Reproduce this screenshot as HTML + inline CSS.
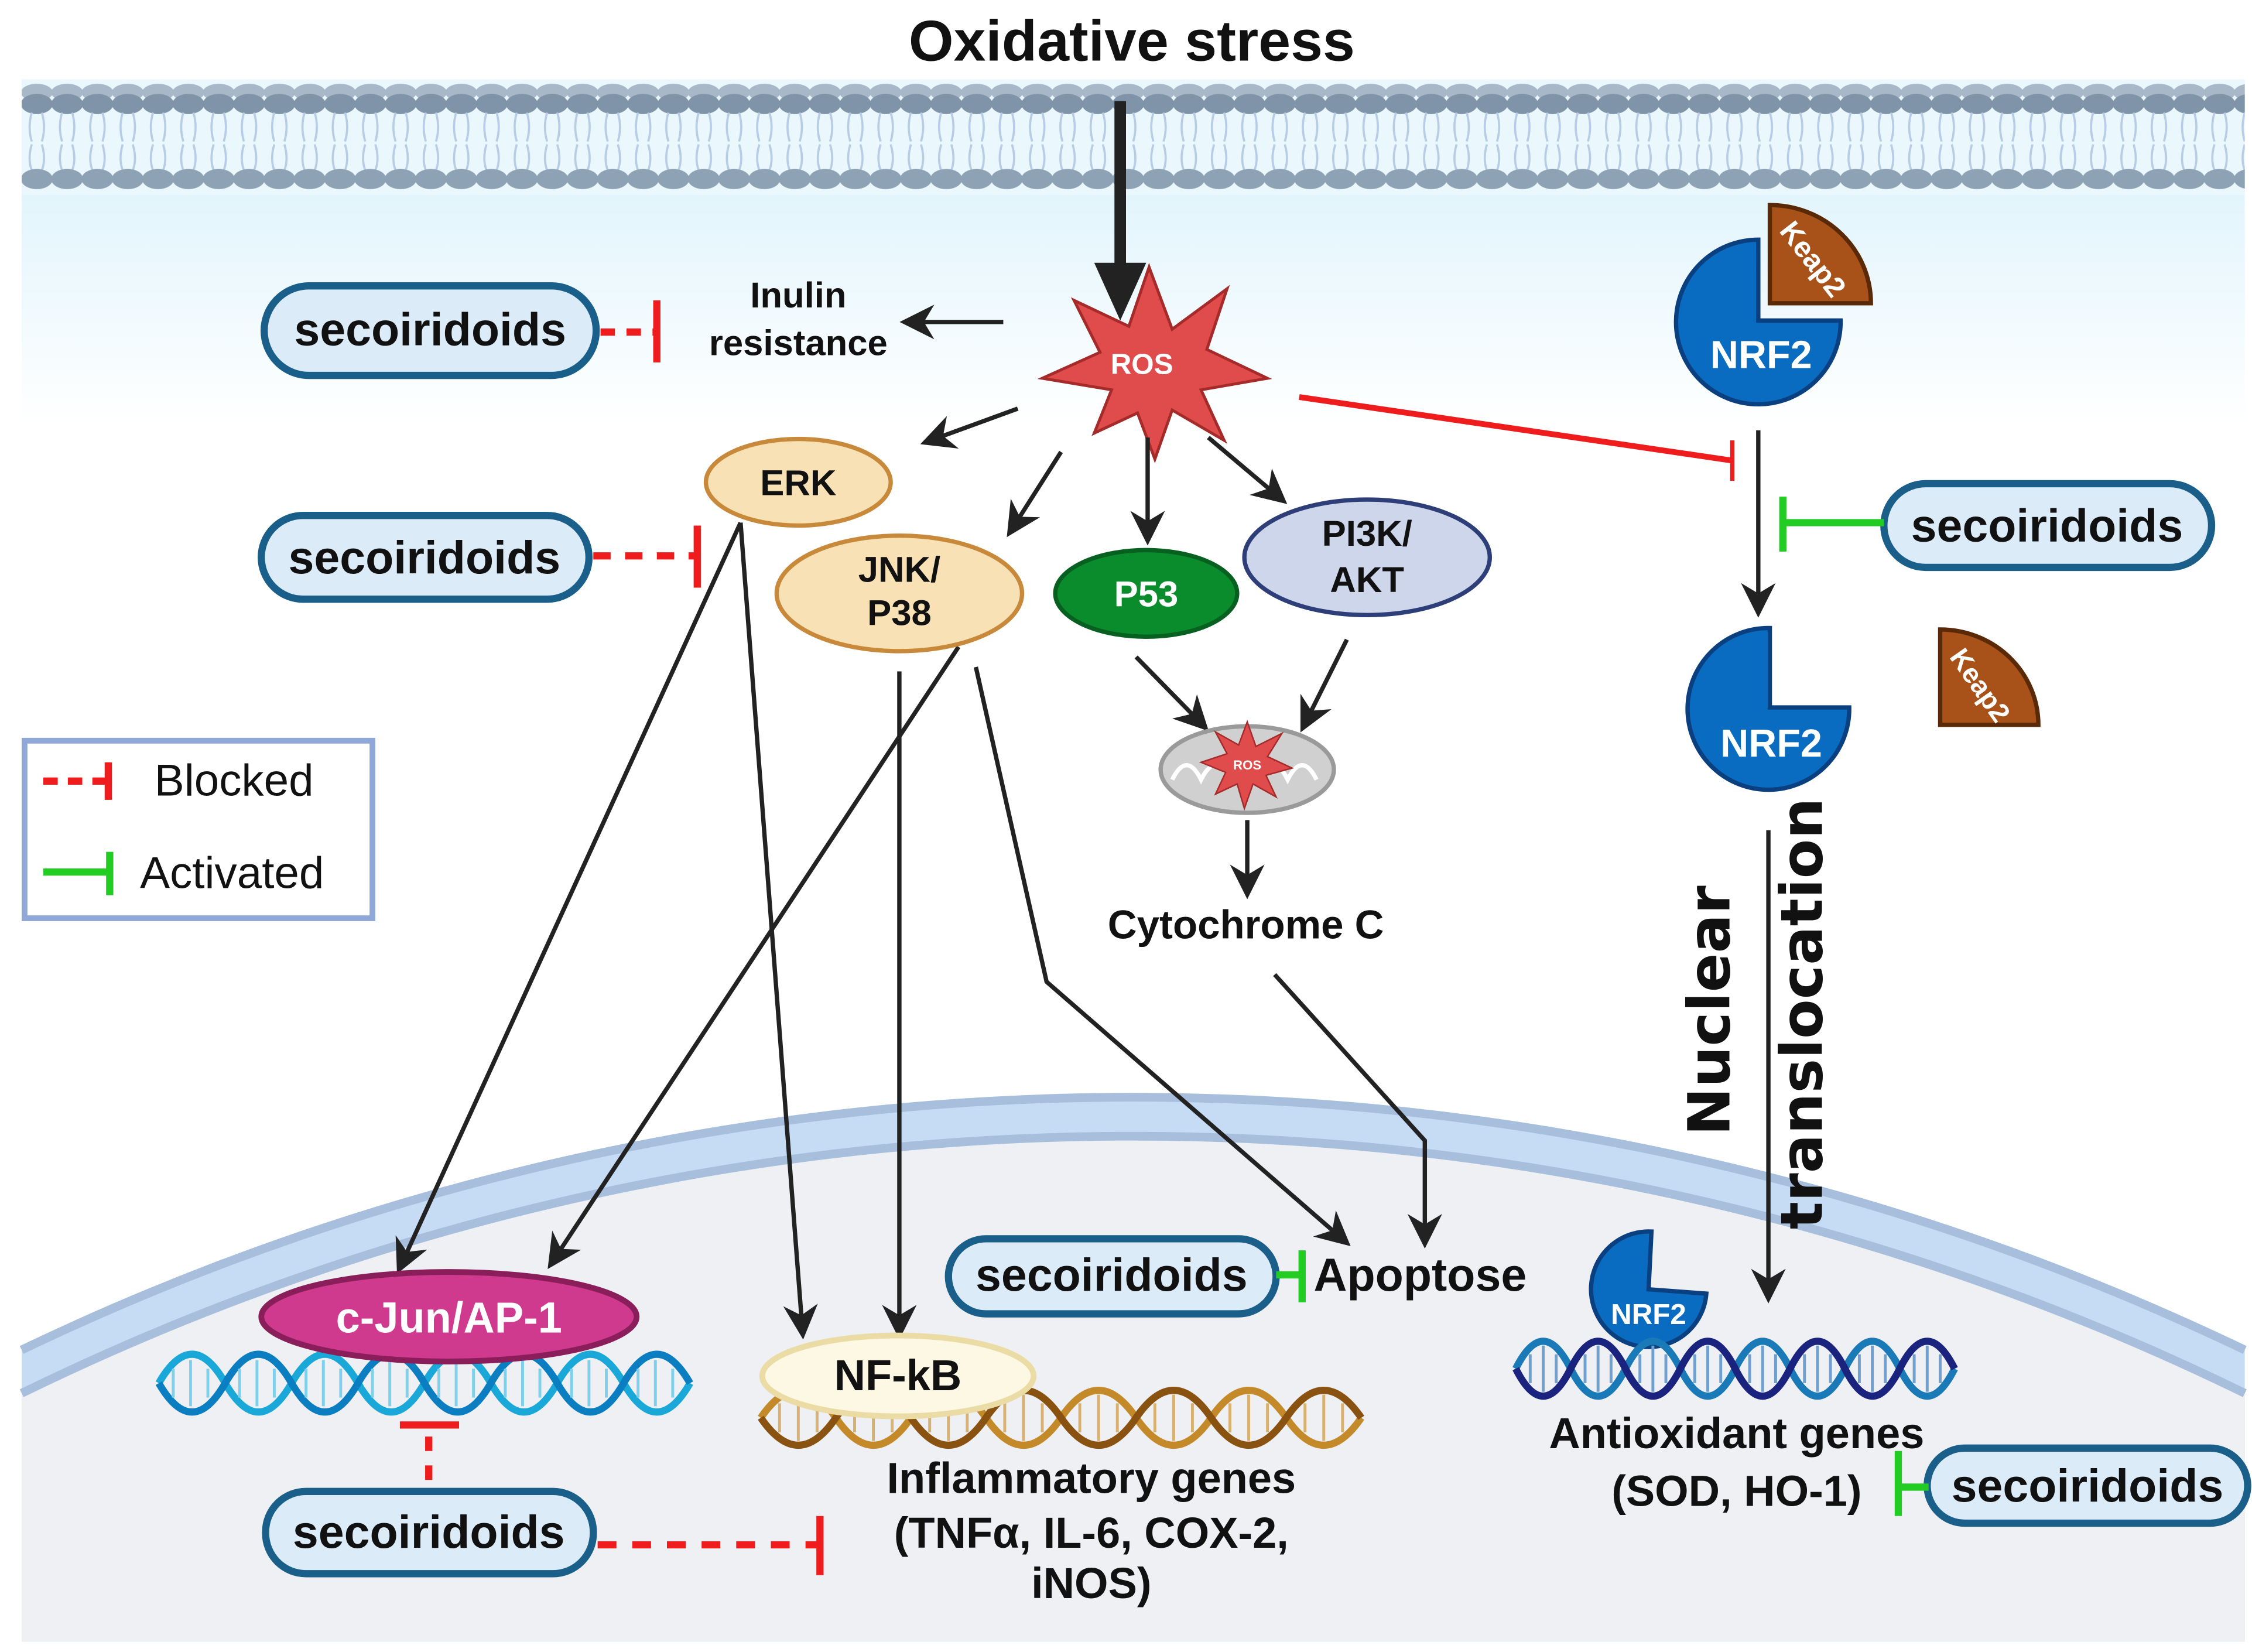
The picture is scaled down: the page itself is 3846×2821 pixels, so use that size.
<!DOCTYPE html>
<html><head><meta charset="utf-8"><style>
html,body{margin:0;padding:0;background:#fff;width:3846px;height:2821px;overflow:hidden;}
svg{display:block;overflow:hidden;}
text{font-family:"Liberation Sans",sans-serif;font-weight:bold;}
</style></head><body>
<svg width="3846" height="2821" viewBox="0 0 1560 1144.2" xmlns="http://www.w3.org/2000/svg">
<defs>
<linearGradient id="cyto" x1="0" y1="0" x2="0" y2="1">
<stop offset="0" stop-color="#d4f0fb"/><stop offset="1" stop-color="#ffffff"/>
</linearGradient>
<marker id="ahs" viewBox="0 0 10 10" refX="8" refY="5" markerWidth="8" markerHeight="8" orient="auto" markerUnits="strokeWidth">
<path d="M0,0 L10,5 L0,10 L3,5 Z" fill="#222"/></marker>
<pattern id="lip" x="15" y="0" width="21" height="140" patternUnits="userSpaceOnUse">
<ellipse cx="10.5" cy="64" rx="11" ry="6" fill="#a8b8c8"/>
<ellipse cx="10.5" cy="72" rx="11" ry="7" fill="#7f94a8"/>
<path d="M7,78 q-3,10 0,20 M14,78 q3,10 0,20 M7,100 q-3,10 0,18 M14,100 q3,10 0,18" stroke="#b8cce6" stroke-width="1.5" fill="none"/>
<ellipse cx="10.5" cy="124" rx="11" ry="7" fill="#8ea2b5"/>
</pattern>
</defs>
<rect x="15" y="55" width="1540" height="240" fill="url(#cyto)"/>
<rect x="15" y="55" width="1540" height="80" fill="#eaf8fd"/>
<rect x="15" y="55" width="1540" height="80" fill="url(#lip)"/>
<!-- nucleus (circular arcs, center 785,2541) -->
<path d="M15,935 A1781,1781 0 0 1 1555,935 L1555,1137 L15,1137 Z" fill="#c6dcf4"/>
<path d="M15,935 A1781,1781 0 0 1 1555,935" fill="none" stroke="#a7bedc" stroke-width="6"/>
<path d="M15,965 A1754,1754 0 0 1 1555,965 L1555,1137 L15,1137 Z" fill="#eef0f4"/>
<path d="M15,965 A1754,1754 0 0 1 1555,965" fill="none" stroke="#a7bedc" stroke-width="6"/>

<text x="784" y="42" font-size="40" text-anchor="middle" fill="#111">Oxidative stress</text>
<line x1="776" y1="70" x2="776" y2="185" stroke="#222" stroke-width="8"/>
<path d="M758,182 L794,182 L776,222 Z" fill="#222"/>

<polygon points="796,185 812,228 850,200 836,242 878,262 832,270 848,305 812,284 800,318 788,286 758,300 770,270 722,262 762,244 744,208 782,226" fill="#e04b4b" stroke="#a52a2a" stroke-width="2"/>
<text x="791" y="259" font-size="20" text-anchor="middle" fill="#fff">ROS</text>

<text x="553" y="213" font-size="25" text-anchor="middle" fill="#111">Inulin</text>
<text x="553" y="246" font-size="25" text-anchor="middle" fill="#111">resistance</text>
<line x1="695" y1="223" x2="628" y2="223" stroke="#222" stroke-width="3" marker-end="url(#ahs)"/>

<g stroke="#222" stroke-width="3" fill="none" marker-end="url(#ahs)">
<line x1="705" y1="283" x2="642" y2="306"/>
<line x1="735" y1="313" x2="700" y2="368"/>
<line x1="795" y1="303" x2="795" y2="373"/>
<line x1="837" y1="303" x2="888" y2="346"/>
<line x1="787" y1="455" x2="834" y2="503"/>
<line x1="933" y1="443" x2="903" y2="503"/>
<line x1="864" y1="568" x2="864" y2="618"/>
<polyline points="883,675 987,790 987,860"/>
<polyline points="676,462 725,680 932,860"/>
<line x1="513" y1="362" x2="277" y2="878"/>
<line x1="513" y1="362" x2="556" y2="923"/>
<line x1="664" y1="448" x2="382" y2="875"/>
<line x1="623" y1="465" x2="623" y2="923"/>
<line x1="1218" y1="298" x2="1218" y2="423"/>
<line x1="1225" y1="575" x2="1225" y2="898"/>
</g>

<ellipse cx="553" cy="334" rx="64" ry="30" fill="#f7e1b5" stroke="#c88a3a" stroke-width="3"/>
<text x="553" y="343" font-size="25" text-anchor="middle" fill="#111">ERK</text>
<ellipse cx="623" cy="411" rx="85" ry="40" fill="#f7e1b5" stroke="#c88a3a" stroke-width="3"/>
<text x="623" y="403" font-size="25" text-anchor="middle" fill="#111">JNK/</text>
<text x="623" y="433" font-size="25" text-anchor="middle" fill="#111">P38</text>
<ellipse cx="794" cy="411" rx="63" ry="30" fill="#0b8c2c" stroke="#076020" stroke-width="3"/>
<text x="794" y="420" font-size="25" text-anchor="middle" fill="#fff">P53</text>
<ellipse cx="947" cy="386" rx="85" ry="40" fill="#cdd6ea" stroke="#2e3e78" stroke-width="3"/>
<text x="947" y="378" font-size="25" text-anchor="middle" fill="#111">PI3K/</text>
<text x="947" y="410" font-size="25" text-anchor="middle" fill="#111">AKT</text>

<ellipse cx="864" cy="533" rx="60" ry="30" fill="#d0d0d0" stroke="#9a9a9a" stroke-width="3"/>
<path d="M812,540 q10,-20 20,0 q10,-20 20,0 q10,-20 20,0 q10,-20 20,0 q10,-20 20,0" stroke="#fff" stroke-width="3" fill="none"/>
<polygon points="864,500 870,517 888,508 878,524 895,532 877,537 884,552 868,543 862,560 857,543 842,550 849,535 832,528 850,522 842,507 858,516" fill="#e04b4b" stroke="#a52a2a" stroke-width="1"/>
<text x="864" y="533" font-size="9" text-anchor="middle" fill="#fff">ROS</text>
<text x="863" y="650" font-size="28" text-anchor="middle" fill="#111">Cytochrome C</text>

<g fill="#dcebf8" stroke="#1a5f8a" stroke-width="5">
<rect x="183" y="198" width="230" height="62" rx="31"/>
<rect x="181" y="357" width="227" height="58" rx="29"/>
<rect x="1305" y="335" width="227" height="58" rx="29"/>
<rect x="657" y="858" width="227" height="52" rx="26"/>
<rect x="184" y="1033" width="227" height="57" rx="28"/>
<rect x="1335" y="1003" width="222" height="52" rx="26"/>
</g>
<g font-size="32" text-anchor="middle" fill="#111">
<text x="298" y="239">secoiridoids</text>
<text x="294" y="397">secoiridoids</text>
<text x="1418" y="375">secoiridoids</text>
<text x="770" y="894">secoiridoids</text>
<text x="297" y="1072">secoiridoids</text>
<text x="1446" y="1040">secoiridoids</text>
</g>

<rect x="17" y="513" width="241" height="123" fill="#fff" stroke="#8fa8d8" stroke-width="4"/>
<text x="107" y="551" font-size="31" style="font-weight:normal" fill="#111">Blocked</text>
<text x="97" y="615" font-size="31" style="font-weight:normal" fill="#111">Activated</text>

<g stroke="#ee1c1c" stroke-width="5" fill="none">
<line x1="416" y1="230" x2="453" y2="230" stroke-dasharray="10,8"/>
<line x1="455" y1="208" x2="455" y2="251"/>
<line x1="411" y1="385" x2="481" y2="385" stroke-dasharray="12,10"/>
<line x1="483" y1="364" x2="483" y2="407"/>
<line x1="414" y1="1070" x2="566" y2="1070" stroke-dasharray="13,11"/>
<line x1="568" y1="1050" x2="568" y2="1091"/>
<line x1="297" y1="1025" x2="297" y2="989" stroke-dasharray="10,10"/>
<line x1="277" y1="987" x2="318" y2="987"/>
<line x1="900" y1="275" x2="1200" y2="319" stroke-width="4"/>
<line x1="1200" y1="305" x2="1200" y2="333" stroke-width="3"/>
<line x1="30" y1="541" x2="73" y2="541" stroke-dasharray="10,7"/>
<line x1="75" y1="528" x2="75" y2="554"/>
</g>
<g stroke="#22cc22" stroke-width="5" fill="none">
<line x1="1305" y1="362" x2="1236" y2="362"/>
<line x1="1235" y1="344" x2="1235" y2="382"/>
<line x1="884" y1="883" x2="901" y2="883"/>
<line x1="902" y1="866" x2="902" y2="902"/>
<line x1="1336" y1="1030" x2="1316" y2="1030"/>
<line x1="1315" y1="1005" x2="1315" y2="1050"/>
<line x1="30" y1="604" x2="74" y2="604"/>
<line x1="76" y1="590" x2="76" y2="620"/>
</g>
<text x="910" y="894" font-size="32" fill="#111">Apoptose</text>

<path d="M1218,222 L1218,166 A57,57 0 1 0 1275,222 Z" fill="#0a6cc0" stroke="#0a3f80" stroke-width="3"/>
<text x="1220" y="255" font-size="27" text-anchor="middle" fill="#fff">NRF2</text>
<path d="M1226,210 L1226,142 A70,68 0 0 1 1296,210 Z" fill="#a8521a" stroke="#5a2a08" stroke-width="3"/>
<text x="0" y="0" font-size="20" fill="#fff" transform="translate(1232,160) rotate(52)">Keap2</text>
<path d="M1226,490 L1226,435 A56,56 0 1 0 1281,490 Z" fill="#0a6cc0" stroke="#0a3f80" stroke-width="3"/>
<text x="1227" y="524" font-size="27" text-anchor="middle" fill="#fff">NRF2</text>
<path d="M1344,502 L1344,436 A68,66 0 0 1 1412,502 Z" fill="#a8521a" stroke="#5a2a08" stroke-width="3"/>
<text x="0" y="0" font-size="19" fill="#fff" transform="translate(1350,455) rotate(55)">Keap2</text>
<text x="0" y="0" font-size="40" style="font-family:'DejaVu Sans',sans-serif" text-anchor="middle" fill="#111" transform="translate(1198,700) rotate(-90)">Nuclear</text>
<text x="0" y="0" font-size="40" style="font-family:'DejaVu Sans',sans-serif" text-anchor="middle" fill="#111" transform="translate(1262,702) rotate(-90)">translocation</text>
<path d="M1142,893 L1144,853 A40,40 0 1 0 1182,896 Z" fill="#0a6cc0" stroke="#0a3f80" stroke-width="3"/>
<text x="1142" y="917" font-size="20" text-anchor="middle" fill="#fff">NRF2</text>

<g fill="none" stroke-width="5">
<path d="M110,958 q23,-40 46,0 t46,0 t46,0 t46,0 t46,0 t46,0 t46,0 t46,0" stroke="#1aa8d8"/>
<path d="M110,958 q23,40 46,0 t46,0 t46,0 t46,0 t46,0 t46,0 t46,0 t46,0" stroke="#0a7ec0"/>
<path d="M527,982 q26,-38 52,0 t52,0 t52,0 t52,0 t52,0 t52,0 t52,0 t52,0" stroke="#c48a2a"/>
<path d="M527,982 q26,38 52,0 t52,0 t52,0 t52,0 t52,0 t52,0 t52,0 t52,0" stroke="#8a5210"/>
<path d="M1050,948 q19,-38 38,0 t38,0 t38,0 t38,0 t38,0 t38,0 t38,0 t38,0" stroke="#1a7ab8"/>
<path d="M1050,948 q19,38 38,0 t38,0 t38,0 t38,0 t38,0 t38,0 t38,0 t38,0" stroke="#1a237e"/>
</g>
<g stroke-width="2">
<path d="M120,948 v20 M132,942 v32 M144,948 v20 M166,948 v20 M178,942 v32 M190,948 v20 M212,948 v20 M224,942 v32 M236,948 v20 M258,948 v20 M270,942 v32 M282,948 v20 M304,948 v20 M316,942 v32 M328,948 v20 M350,948 v20 M362,942 v32 M374,948 v20 M396,948 v20 M408,942 v32 M420,948 v20 M442,948 v20 M454,942 v32 M466,948 v20" stroke="#7fd0ea"/>
<path d="M540,972 v20 M553,966 v32 M566,972 v20 M592,972 v20 M605,966 v32 M618,972 v20 M644,972 v20 M657,966 v32 M670,972 v20 M696,972 v20 M709,966 v32 M722,972 v20 M748,972 v20 M761,966 v32 M774,972 v20 M800,972 v20 M813,966 v32 M826,972 v20 M852,972 v20 M865,966 v32 M878,972 v20 M904,972 v20 M917,966 v32 M930,972 v20" stroke="#d8b070"/>
<path d="M1060,938 v20 M1069,932 v32 M1078,938 v20 M1098,938 v20 M1107,932 v32 M1116,938 v20 M1136,938 v20 M1145,932 v32 M1154,938 v20 M1174,938 v20 M1183,932 v32 M1192,938 v20 M1212,938 v20 M1221,932 v32 M1230,938 v20 M1250,938 v20 M1259,932 v32 M1268,938 v20 M1288,938 v20 M1297,932 v32 M1306,938 v20 M1326,938 v20 M1335,932 v32 M1344,938 v20" stroke="#6fa0d0"/>
</g>
<ellipse cx="311" cy="912" rx="130" ry="31" fill="#cf3a8e" stroke="#8a1e5a" stroke-width="4"/>
<text x="311" y="923" font-size="30" text-anchor="middle" fill="#fff">c-Jun/AP-1</text>
<ellipse cx="622" cy="953" rx="94" ry="28" fill="#fdf8e3" stroke="#eadca4" stroke-width="4"/>
<text x="622" y="963" font-size="30" text-anchor="middle" fill="#111">NF-kB</text>

<g font-size="30" text-anchor="middle" fill="#111">
<text x="756" y="1034">Inflammatory genes</text>
<text x="756" y="1072">(TNFα, IL-6, COX-2,</text>
<text x="756" y="1107">iNOS)</text>
<text x="1203" y="1003">Antioxidant genes</text>
<text x="1203" y="1043">(SOD, HO-1)</text>
</g>
</svg>
</body></html>
